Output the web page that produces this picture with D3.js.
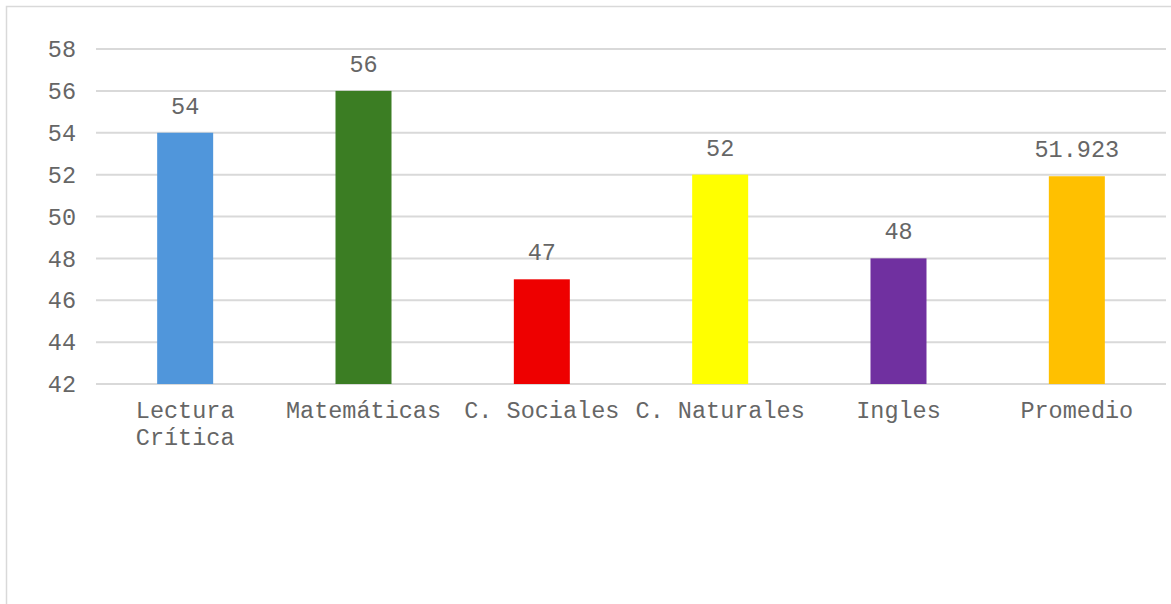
<!DOCTYPE html>
<html>
<head>
<meta charset="utf-8">
<script src="https://cdn.jsdelivr.net/npm/d3@7"></script>
<style>
  body { margin: 0; background: #fff; }
  text { font-family: "Liberation Mono", "Courier New", monospace; fill: #666666; }
</style>
</head>
<body>
<div id="chart"></div>
<script>
var categories = ['Lectura Crítica', 'Matemáticas', 'C. Sociales', 'C. Naturales', 'Ingles', 'Promedio'];
var values = [54, 56, 47, 52, 48, 51.923];
var valueLabels = ['54', '56', '47', '52', '48', '51.923'];
var colors = ['#5096DB', '#3B7D23', '#EE0000', '#FFFF00', '#7030A0', '#FFC000'];
var yTicks = [42, 44, 46, 48, 50, 52, 54, 56, 58];

var width = 1171, height = 604;
var margin = { left: 96, right: 5, top: 49, bottom: 220 };
var fontSize = 23.5;
var charW = fontSize * 0.6;

var svg = d3.select('#chart').append('svg')
  .attr('width', width)
  .attr('height', height);

// chart frame
svg.append('rect')
  .attr('x', 6.5).attr('y', 6.5)
  .attr('width', width).attr('height', height)
  .attr('fill', 'none')
  .attr('stroke', '#d9d9d9')
  .attr('stroke-width', 1.5);

var x = d3.scaleBand()
  .domain(categories)
  .range([margin.left, width - margin.right])
  .paddingInner(0.686)
  .paddingOuter(0.343);

var y = d3.scaleLinear()
  .domain([42, 58])
  .range([384, margin.top]);

// gridlines
svg.append('g')
  .selectAll('line')
  .data(yTicks)
  .enter().append('line')
  .attr('x1', margin.left)
  .attr('x2', width - margin.right)
  .attr('y1', function (d) { return y(d); })
  .attr('y2', function (d) { return y(d); })
  .attr('stroke', '#d9d9d9')
  .attr('stroke-width', 2);

// y labels
svg.append('g')
  .selectAll('text')
  .data(yTicks)
  .enter().append('text')
  .attr('x', 76)
  .attr('y', function (d) { return y(d); })
  .attr('dy', '0.35em')
  .attr('text-anchor', 'end')
  .style('font-size', fontSize + 'px')
  .text(function (d) { return d; });

// bars
svg.append('g')
  .selectAll('rect')
  .data(values)
  .enter().append('rect')
  .attr('x', function (d, i) { return x(categories[i]); })
  .attr('y', function (d) { return y(d); })
  .attr('width', x.bandwidth())
  .attr('height', function (d) { return y(42) - y(d); })
  .attr('fill', function (d, i) { return colors[i]; });

// value labels
svg.append('g')
  .selectAll('text')
  .data(values)
  .enter().append('text')
  .attr('x', function (d, i) { return x(categories[i]) + x.bandwidth() / 2; })
  .attr('y', function (d) { return y(d) - 19; })
  .attr('text-anchor', 'middle')
  .style('font-size', fontSize + 'px')
  .text(function (d, i) { return valueLabels[i]; });

// category labels, wrapped when wider than the band
var step = x.step();
var catG = svg.append('g');
categories.forEach(function (c, i) {
  var cx = x(c) + x.bandwidth() / 2;
  var lines = (c.length * charW > step) ? c.split(' ') : [c];
  var t = catG.append('text')
    .attr('x', cx)
    .attr('y', 418)
    .attr('text-anchor', lines.length > 1 ? 'start' : 'middle')
    .style('font-size', fontSize + 'px');
  if (lines.length > 1) {
    var longest = d3.max(lines, function (l) { return l.length; });
    t.attr('x', cx - longest * charW / 2);
  }
  lines.forEach(function (l, j) {
    t.append('tspan')
      .attr('x', t.attr('x'))
      .attr('dy', j === 0 ? 0 : 27)
      .text(l);
  });
});
</script>
</body>
</html>
